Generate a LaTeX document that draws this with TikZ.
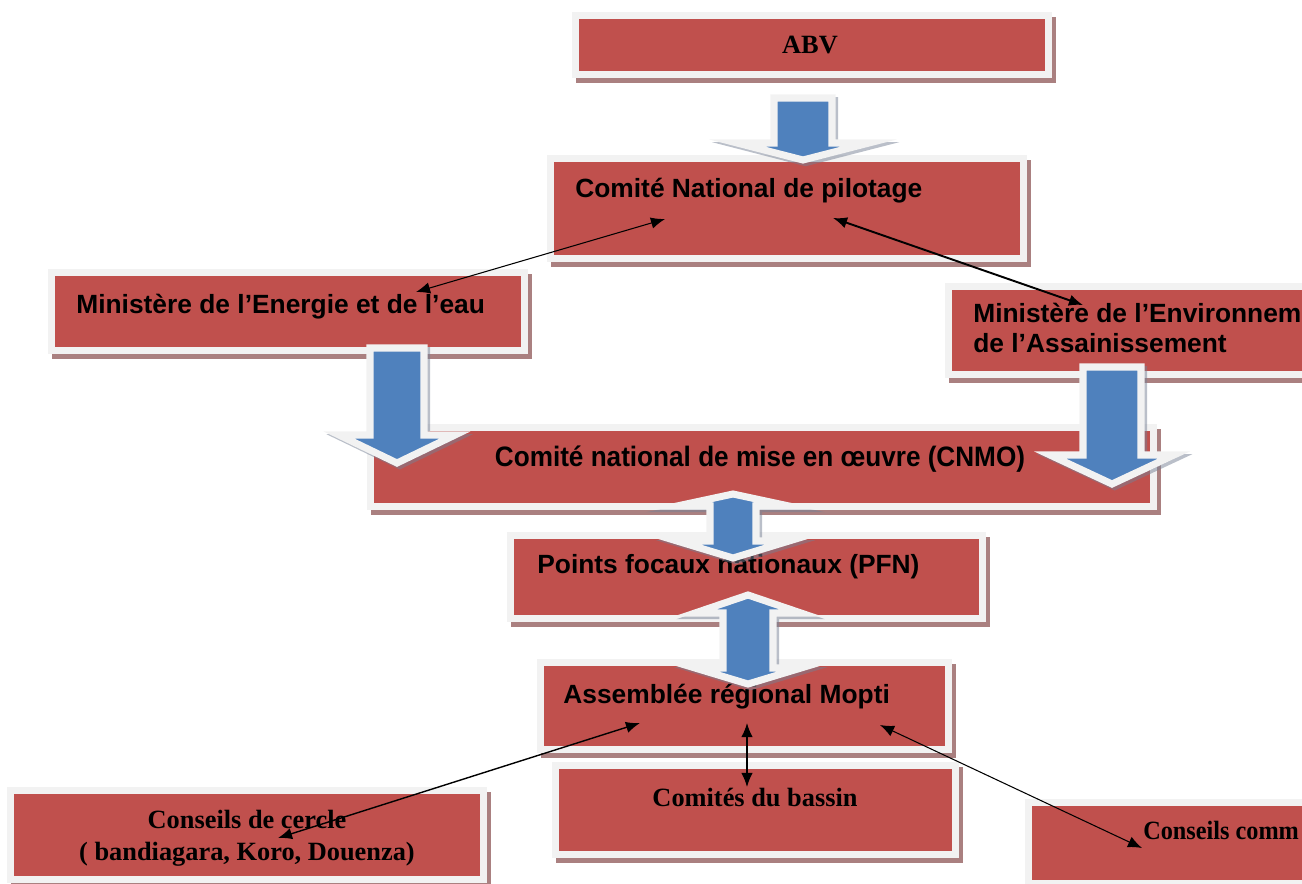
\documentclass[tikz,border=0pt]{standalone}
\usepackage{fontspec}
\setmainfont{Liberation Serif}
\newfontfamily\arialfont{Liberation Sans}
\usetikzlibrary{arrows.meta}
\usetikzlibrary{calc}
\usetikzlibrary{fit}
\usetikzlibrary{shadows}

\definecolor{boxred}{RGB}{192,80,77}
\definecolor{framegray}{RGB}{242,242,242}
\definecolor{arrowblue}{RGB}{79,129,189}
\definecolor{redshadow}{RGB}{170,128,128}
\definecolor{blueshadow}{RGB}{118,128,148}

\tikzset{
	boxshadow/.style={fill=redshadow},
	boxframe/.style={fill=framegray},
	boxfill/.style={fill=boxred},
	sanslabel/.style={font=\arialfont\bfseries\fontsize{15}{17}\selectfont, inner sep=0pt},
	seriflabel/.style={font=\bfseries\fontsize{15}{18}\selectfont, inner sep=0pt},
	blockarrow/.style={fill=arrowblue, draw=framegray, line width=4pt, line join=miter,
		drop shadow={shadow xshift=1.5pt, shadow yshift=-1.5pt, fill=blueshadow, draw=blueshadow, line width=4pt}},
	link/.style={<->, >={Latex[length=8pt,width=6.5pt]}, black}
}

\newcommand{\drawBox}[1]{
	\fill[boxshadow] ($(#1_L)+(4,5)$) rectangle ($(#1_R)+(4,5)$);
	\fill[boxframe] (#1_L) rectangle (#1_R);
	\fill[boxfill] ($(#1_L)+(7,7)$) rectangle ($(#1_R)+(-7,-7)$);
	\node[fit=(#1_L)(#1_R), inner sep=0pt] (#1) {};
}
\newcommand{\drawDownArrow}[6]{
	\path[blockarrow] ({#1-#5},#2) -- ({#1+#5},#2) -- ({#1+#5},#3) -- ({#1+#6},#3)
		-- (#1,#4) -- ({#1-#6},#3) -- ({#1-#5},#3) -- cycle;
}
\newcommand{\drawUpDownArrow}[7]{
	\path[blockarrow] (#1,#2) -- ({#1+#7},#3) -- ({#1+#6},#3) -- ({#1+#6},#4) -- ({#1+#7},#4)
		-- (#1,#5) -- ({#1-#7},#4) -- ({#1-#6},#4) -- ({#1-#6},#3) -- ({#1-#7},#3) -- cycle;
}

\begin{document}
\begin{tikzpicture}[x=0.02cm, y=-0.02cm]
		\useasboundingbox (0,0) rectangle (1302,883);
		\clip (0,0) rectangle (1302,883);

		\coordinate (ABV_L) at (572,12);
		\coordinate (ABV_R) at (1052,78);
		\coordinate (CNP_L) at (547,155);
		\coordinate (CNP_R) at (1027,262);
		\coordinate (ENE_L) at (48,269);
		\coordinate (ENE_R) at (528,354);
		\coordinate (ENV_L) at (945,283);
		\coordinate (ENV_R) at (1330,378);
		\coordinate (CNMO_L) at (367,424);
		\coordinate (CNMO_R) at (1157,510);
		\coordinate (PFN_L) at (507,532);
		\coordinate (PFN_R) at (986,622);
		\coordinate (ARM_L) at (537,659);
		\coordinate (ARM_R) at (952,753);
		\coordinate (CER_L) at (7,787);
		\coordinate (CER_R) at (487,883);
		\coordinate (BAS_L) at (552,762);
		\coordinate (BAS_R) at (959,858);
		\coordinate (COM_L) at (1025,799);
		\coordinate (COM_R) at (1330,887);

		\drawBox{ABV}
		\drawBox{CNP}
		\drawBox{ENE}
		\drawBox{ENV}
		\drawBox{CNMO}
		\drawBox{PFN}
		\drawBox{ARM}
		\drawBox{CER}
		\drawBox{BAS}
		\drawBox{COM}

		\node[seriflabel, anchor=base] (abvText) at (810,53) {ABV};
		\node[sanslabel, anchor=base west] (cnpText) at (575,197) {Comité National de pilotage};
		\node[sanslabel, anchor=base west] (eneText) at (76,313) {Ministère de l’Energie et de l’eau};
		\node[sanslabel, anchor=west, align=left] (envText) at (973,328) {Ministère de l’Environnem\\de l’Assainissement};
		\node[sanslabel, anchor=base, font=\arialfont\bfseries\fontsize{16}{18}\selectfont, xscale=0.93] (cnmoText) at (760,466) {Comité national de mise en œuvre (CNMO)};
		\node[sanslabel, anchor=base west] (pfnText) at (537,573) {Points focaux nationaux (PFN)};
		\node[sanslabel, anchor=base west] (armText) at (563,703) {Assemblée régional Mopti};
		\node[seriflabel, align=center] (cerText) at (247,838) {Conseils de cercle\\( bandiagara, Koro, Douenza)};
		\node[seriflabel, anchor=base] (basText) at (755,806) {Comités du bassin};
		\node[seriflabel, anchor=base west, xscale=0.92] (comText) at (1143,839) {Conseils comm};

		\drawDownArrow{803}{98}{143}{160}{29}{66}
		\drawDownArrow{397}{348}{435}{463}{27}{58}
		\drawDownArrow{1112}{367}{455}{484}{29}{62}
		\drawUpDownArrow{733}{494}{506}{541}{558}{23}{56}
		\drawUpDownArrow{748}{595}{613}{668}{684}{25}{53}

		\coordinate (eneIn) at (416,292);
		\coordinate (cnpInA) at (665,219);
		\coordinate (cnpInB) at (833,218);
		\coordinate (envIn) at (1083,305);
		\coordinate (armInA) at (640,723);
		\coordinate (armInB) at (747,723);
		\coordinate (armInC) at (880,725);
		\coordinate (cerIn) at (278,838);
		\coordinate (basIn) at (747,787);
		\coordinate (comIn) at (1142,848);

		\draw[link, line width=0.6pt] (eneIn) -- (cnpInA);
		\draw[link, line width=1.1pt] (cnpInB) -- (envIn);
		\draw[link, line width=0.8pt] (armInA) -- (cerIn);
		\draw[link, line width=0.8pt] (armInB) -- (basIn);
		\draw[link, line width=0.6pt] (armInC) -- (comIn);

	\end{tikzpicture}
\end{document}
